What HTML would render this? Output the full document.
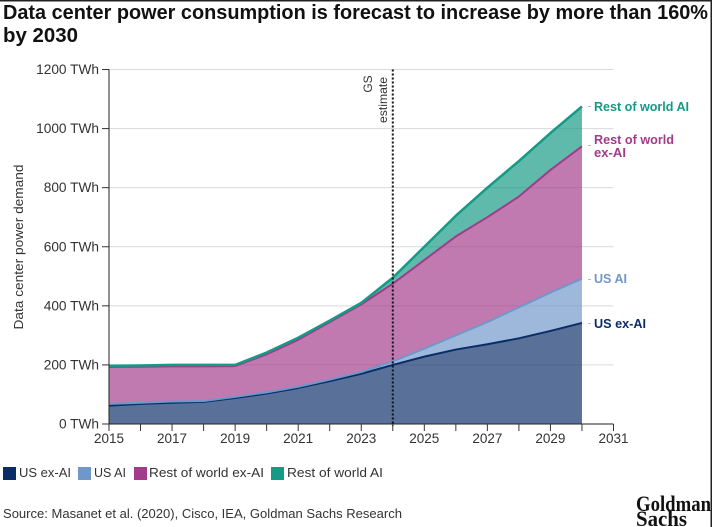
<!DOCTYPE html>
<html lang="en">
<head>
<meta charset="utf-8">
<title>Data center power consumption forecast</title>
<style>
html,body{margin:0;padding:0;background:#fff;width:712px;height:527px;overflow:hidden}
svg{display:block}
text{font-family:"Liberation Sans",sans-serif}
</style>
</head>
<body>
<svg id="chart" width="712" height="527" viewBox="0 0 712 527" xmlns="http://www.w3.org/2000/svg">
  <rect x="0" y="0" width="712" height="527" fill="#fff"/>
  <g id="plot"></g>
  <text x="3" y="19" font-size="20" font-weight="700" fill="#111" textLength="705" lengthAdjust="spacingAndGlyphs">Data center power consumption is forecast to increase by more than 160%</text>
  <text x="3" y="42" font-size="20" font-weight="700" fill="#111" textLength="75" lengthAdjust="spacingAndGlyphs">by 2030</text>
  <text transform="translate(23,247) rotate(-90)" text-anchor="middle" font-size="12.5" fill="#333" textLength="165" lengthAdjust="spacingAndGlyphs">Data center power demand</text>
  <text transform="translate(372,84) rotate(-90)" text-anchor="middle" font-size="12" fill="#333">GS</text>
  <text transform="translate(387,100) rotate(-90)" text-anchor="middle" font-size="12" fill="#333" textLength="46" lengthAdjust="spacingAndGlyphs">estimate</text>
  <g font-size="12.5" font-weight="700">
    <rect x="588" y="106" width="3" height="1" fill="#bbb"/>
    <text x="594" y="111" fill="#149a85" textLength="95" lengthAdjust="spacingAndGlyphs">Rest of world AI</text>
    <rect x="588" y="145" width="3" height="1" fill="#bbb"/>
    <text x="594" y="144" fill="#a23b8a" textLength="80" lengthAdjust="spacingAndGlyphs">Rest of world</text>
    <text x="594" y="157" fill="#a23b8a" textLength="32" lengthAdjust="spacingAndGlyphs">ex-AI</text>
    <rect x="588" y="279" width="3" height="1" fill="#bbb"/>
    <text x="594" y="283" fill="#6f97c9" textLength="33" lengthAdjust="spacingAndGlyphs">US AI</text>
    <rect x="588" y="323" width="3" height="1" fill="#bbb"/>
    <text x="594" y="328" fill="#0a2d68" textLength="52" lengthAdjust="spacingAndGlyphs">US ex-AI</text>
  </g>
  <g font-size="13" fill="#333">
    <g>
      <rect x="3" y="467" width="13" height="13" fill="#0a2d68"/>
      <text x="19" y="477" textLength="52" lengthAdjust="spacingAndGlyphs">US ex-AI</text>
    </g>
    <g>
      <rect x="78" y="467" width="13" height="13" fill="#6f97c9"/>
      <text x="94" y="477" textLength="32" lengthAdjust="spacingAndGlyphs">US AI</text>
    </g>
    <g>
      <rect x="134" y="467" width="13" height="13" fill="#a23b8a"/>
      <text x="149" y="477" textLength="115" lengthAdjust="spacingAndGlyphs">Rest of world ex-AI</text>
    </g>
    <g>
      <rect x="271" y="467" width="13" height="13" fill="#149a85"/>
      <text x="287" y="477" textLength="96" lengthAdjust="spacingAndGlyphs">Rest of world AI</text>
    </g>
  </g>
  <text x="3" y="518" font-size="13" fill="#333" textLength="399" lengthAdjust="spacingAndGlyphs">Source: Masanet et al. (2020), Cisco, IEA, Goldman Sachs Research</text>
  <g font-weight="700" fill="#111">
    <text x="636" y="511" font-size="22" textLength="75" lengthAdjust="spacingAndGlyphs" style="font-family:'Liberation Serif',serif">Goldman</text>
    <text x="636" y="526" font-size="22" textLength="51" lengthAdjust="spacingAndGlyphs" style="font-family:'Liberation Serif',serif">Sachs</text>
  </g>
  <rect x="0" y="0" width="712" height="1.5" fill="#222"/>
  <rect x="710.5" y="0" width="1.5" height="527" fill="#222"/>
</svg>
<script>
const years = [2015,2016,2017,2018,2019,2020,2021,2022,2023,2024,2025,2026,2027,2028,2029,2030];
const usExAi = [62,68,72,75,88,103,122,145,170,200,228,252,270,290,315,342];
const usAi = [6,4,4,3,4,4,4,5,6,12,27,48,75,105,130,150];
const rowExAi = [125,122,119,117,104,129,159,195,229,263,300,335,355,375,415,448];
const rowAi = [4,4,5,5,4,6,7,5,5,20,45,70,100,120,125,135];
const yTickValues = [0,200,400,600,800,1000,1200];
const xTickValues = [2015,2016,2017,2018,2019,2020,2021,2022,2023,2024,2025,2026,2027,2028,2029,2030,2031];
const xTickLabels = [2015,2017,2019,2021,2023,2025,2027,2029,2031];
const estimateYear = 2024;

const NS = 'http://www.w3.org/2000/svg';
const plot = document.getElementById('plot');
const left = 109, right = 613.5, top0 = 69.5, bottom = 424;
const xScale = v => left + (v - 2015) * (right - left) / 16;
const yScale = v => bottom - v * (bottom - top0) / 1200;

function make(tag, attrs, parent) {
  const el = document.createElementNS(NS, tag);
  for (const k in attrs) el.setAttribute(k, attrs[k]);
  (parent || plot).appendChild(el);
  return el;
}

yTickValues.forEach(v => {
  if (v > 0) {
    const grid = make('line', {x1: left, x2: right, y1: yScale(v), y2: yScale(v), stroke: '#d9d9d9', 'stroke-width': 1});
    
    
  }
  const tick = make('line', {x1: left - 7, x2: left, y1: yScale(v), y2: yScale(v), stroke: '#333', 'stroke-width': 1});
  
  
  const label = make('text', {x: left - 10, y: yScale(v) + 4.5, 'text-anchor': 'end', 'font-size': 13.7, fill: '#333'});
  label.textContent = v + ' TWh';
  
  
});

const seriesList = [
  {key: 'us-ex-ai', values: usExAi, color: '#0a2d68', width: 2},
  {key: 'us-ai', values: usAi, color: '#6f97c9', width: 2},
  {key: 'rest-of-world-ex-ai', values: rowExAi, color: '#a23b8a', width: 2},
  {key: 'rest-of-world-ai', values: rowAi, color: '#149a85', width: 2.5}
];
const stackOrder = [usExAi, usAi, rowExAi, rowAi];
function cumulative(values, i) {
  let sum = 0;
  for (const arr of stackOrder) {
    sum += arr[i];
    if (arr === values) break;
  }
  return sum;
}
function baseline(values, i) {
  return cumulative(values, i) - values[i];
}
seriesList.forEach(s => {
  const topPts = years.map((y, i) => xScale(y) + ',' + yScale(cumulative(s.values, i)));
  const basePts = years.map((y, i) => xScale(y) + ',' + yScale(baseline(s.values, i))).reverse();
  const area = make('polygon', {points: topPts.concat(basePts).join(' '), fill: s.color, 'fill-opacity': 0.68, stroke: 'none'});
  
  
});
seriesList.forEach(s => {
  const pts = years.map((y, i) => xScale(y) + ',' + yScale(cumulative(s.values, i)));
  const line = make('polyline', {points: pts.join(' '), fill: 'none', stroke: s.color, 'stroke-width': s.width, 'stroke-linejoin': 'round'});
  
  
});

const yAxis = make('line', {x1: left, x2: left, y1: top0, y2: bottom, stroke: '#222', 'stroke-width': 1});


const xAxis = make('line', {x1: left, x2: right, y1: bottom, y2: bottom, stroke: '#222', 'stroke-width': 1});



xTickValues.forEach(v => {
  const tick = make('line', {x1: xScale(v), x2: xScale(v), y1: bottom, y2: bottom + 7, stroke: '#333', 'stroke-width': 1});
  
  
});
xTickLabels.forEach(v => {
  const label = make('text', {x: xScale(v), y: 443, 'text-anchor': 'middle', 'font-size': 13.5, fill: '#333'});
  label.textContent = v;
  
  
});

const estimate = make('line', {x1: xScale(estimateYear), x2: xScale(estimateYear), y1: top0, y2: bottom + 2, stroke: '#111', 'stroke-width': 2, 'stroke-dasharray': '2 2'});


</script>
</body>
</html>
